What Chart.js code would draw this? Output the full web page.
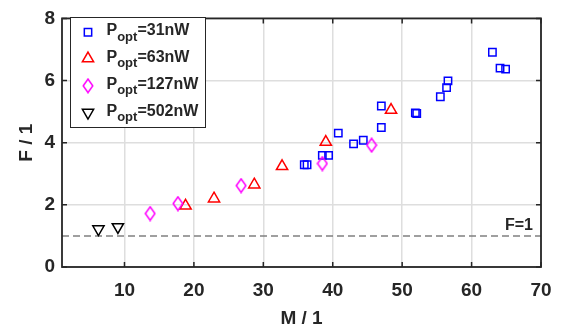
<!DOCTYPE html>
<html><head><meta charset="utf-8">
<script src="https://cdn.jsdelivr.net/npm/chart.js@4/dist/chart.umd.min.js"></script>
<style>html,body{margin:0;padding:0;background:#fff;}#wrap{width:569px;height:336px;position:relative;}</style>
</head><body><div id="wrap"><canvas id="c" width="569" height="336"></canvas></div>
<script>
const xTicks = [10, 20, 30, 40, 50, 60, 70];
const yTicks = [0, 2, 4, 6, 8];
const legendPowers = ['31nW', '63nW', '127nW', '502nW'];
// P_opt = 31 nW
const m31 = [35.9, 36.3, 38.5, 39.4, 40.8, 43.0, 44.4, 47.0, 47.0, 51.9, 52.1, 55.5, 56.4, 56.6, 63.0, 64.1, 64.9];
const f31 = [3.29, 3.29, 3.59, 3.59, 4.31, 3.96, 4.08, 4.49, 5.18, 4.96, 4.94, 5.48, 5.77, 5.99, 6.91, 6.40, 6.37];
// P_opt = 63 nW
const m63 = [18.8, 22.9, 28.7, 32.7, 39.0, 48.4];
const f63 = [1.97, 2.20, 2.65, 3.24, 4.02, 5.05];
// P_opt = 127 nW
const m127 = [13.7, 17.7, 26.8, 38.5, 45.6];
const f127 = [1.72, 2.04, 2.62, 3.33, 3.92];
// P_opt = 502 nW
const m502 = [6.25, 9.05];
const f502 = [1.22, 1.29];
// reference line F = 1
const refX = [1, 70];
const refY = [1, 1];

const FONT = '"Liberation Sans", Arial, Helvetica, sans-serif';
const TXT = '#262626';

function pts(xs, ys) { return xs.map((x, i) => ({x: x, y: ys[i]})); }

function makeDiamond() {
  const c = document.createElement('canvas');
  c.width = 12; c.height = 16;
  const g = c.getContext('2d');
  g.strokeStyle = '#ff00ff'; g.lineWidth = 1.5;
  g.beginPath();
  g.moveTo(6, 1.2); g.lineTo(10.8, 8); g.lineTo(6, 14.8); g.lineTo(1.2, 8); g.closePath();
  g.stroke();
  return c;
}
const diamond = makeDiamond();

const markerDefs = [
  {style: 'rect', color: '#0000ff', r: 5.2, rot: 0},
  {style: 'triangle', color: '#ff0000', r: 6.5, rot: 0},
  {style: diamond, color: '#ff00ff', r: 7, rot: 0},
  {style: 'triangle', color: '#000000', r: 6.5, rot: 180}
];

const sets = [[m31, f31], [m63, f63], [m127, f127], [m502, f502]];

const datasets = sets.map((s, i) => ({
  type: 'scatter',
  data: pts(s[0], s[1]),
  pointStyle: markerDefs[i].style,
  pointRadius: markerDefs[i].r,
  pointRotation: markerDefs[i].rot,
  borderColor: markerDefs[i].color,
  backgroundColor: 'rgba(0,0,0,0)',
  pointBorderWidth: 1.5,
  pointHoverRadius: markerDefs[i].r,
  order: 4 - i
}));
datasets.push({
  type: 'line',
  data: pts(refX, refY),
  borderColor: '#808080',
  borderWidth: 1.4,
  borderDash: [7, 4],
  pointRadius: 0,
  fill: false,
  order: 10
});

const decor = {
  id: 'decor',
  afterDraw(chart) {
    const ctx = chart.ctx;
    const a = chart.chartArea;
    const xs = chart.scales.x, ys = chart.scales.y;
    ctx.save();
    // frame
    ctx.strokeStyle = TXT; ctx.lineWidth = 1.8;
    ctx.strokeRect(a.left, a.top, a.right - a.left, a.bottom - a.top);
    // inward ticks
    ctx.lineWidth = 1.5;
    ctx.beginPath();
    xTicks.forEach(v => {
      const px = xs.getPixelForValue(v);
      ctx.moveTo(px, a.bottom); ctx.lineTo(px, a.bottom - 5);
      ctx.moveTo(px, a.top); ctx.lineTo(px, a.top + 5);
    });
    yTicks.forEach(v => {
      const py = ys.getPixelForValue(v);
      ctx.moveTo(a.left, py); ctx.lineTo(a.left + 5, py);
      ctx.moveTo(a.right, py); ctx.lineTo(a.right - 5, py);
    });
    ctx.stroke();
    // F=1 label
    ctx.fillStyle = TXT;
    ctx.font = 'bold 16px ' + FONT;
    ctx.textAlign = 'right'; ctx.textBaseline = 'alphabetic';
    ctx.fillText('F=1', xs.getPixelForValue(70) - 8, ys.getPixelForValue(1) - 6);
    // legend
    const bx = 70, by = 17, bw = 135, bh = 110;
    ctx.fillStyle = '#ffffff';
    ctx.fillRect(bx, by, bw, bh);
    ctx.strokeStyle = TXT; ctx.lineWidth = 1;
    ctx.strokeRect(bx + 0.5, by + 0.5, bw, bh);
    const rowY = [32.3, 58.6, 85.8, 112.6];
    legendPowers.forEach((p, i) => {
      const m = markerDefs[i];
      const cy = rowY[i];
      ctx.strokeStyle = m.color; ctx.lineWidth = 1.5;
      if (typeof m.style === 'string') {
        ctx.beginPath();
        const r = m.r;
        if (m.style === 'rect') {
          const s = Math.SQRT1_2 * r;
          ctx.rect(88 - s, cy - s, 2 * s, 2 * s);
        } else {
          const rad = m.rot * Math.PI / 180;
          for (let k = 0; k < 3; k++) {
            const ang = rad + k * 2 * Math.PI / 3;
            const px = 88 + Math.sin(ang) * r, py = cy - Math.cos(ang) * r;
            if (k === 0) ctx.moveTo(px, py); else ctx.lineTo(px, py);
          }
          ctx.closePath();
        }
        ctx.stroke();
      } else {
        ctx.drawImage(m.style, 88 - m.style.width / 2, cy - m.style.height / 2);
      }
      const base = cy + 3;
      ctx.fillStyle = TXT;
      ctx.textAlign = 'left'; ctx.textBaseline = 'alphabetic';
      ctx.font = 'bold 16px ' + FONT;
      let tx = 106.5;
      ctx.fillText('P', tx, base);
      tx += ctx.measureText('P').width;
      ctx.font = 'bold 13px ' + FONT;
      ctx.fillText('opt', tx, base + 5.5);
      tx += ctx.measureText('opt').width;
      ctx.font = 'bold 16px ' + FONT;
      ctx.fillText('=' + p, tx, base);
    });
    ctx.restore();
  }
};

new Chart(document.getElementById('c'), {
  data: {datasets: datasets},
  options: {
    responsive: false,
    devicePixelRatio: 1,
    animation: false,
    events: [],
    layout: {padding: {top: 10, right: 28, left: 0, bottom: 0}},
    plugins: {legend: {display: false}, tooltip: {enabled: false}},
    scales: {
      x: {
        type: 'linear', min: 1, max: 70,
        afterBuildTicks(s) { s.ticks = xTicks.map(v => ({value: v})); },
        afterFit(s) { s.height = 69; },
        grid: {color: '#dedede', lineWidth: 1.5, drawTicks: false},
        border: {display: false},
        ticks: {color: TXT, font: {family: FONT, size: 19, weight: 'bold'}, padding: 12, maxRotation: 0},
        title: {display: true, text: 'M / 1', color: TXT, font: {family: FONT, size: 19, weight: 'bold'}, padding: {top: 0, bottom: 6}}
      },
      y: {
        type: 'linear', min: 0, max: 8,
        afterBuildTicks(s) { s.ticks = yTicks.map(v => ({value: v})); },
        afterFit(s) { s.width = 62; },
        grid: {color: '#dedede', lineWidth: 1.5, drawTicks: false},
        border: {display: false},
        ticks: {color: TXT, font: {family: FONT, size: 19, weight: 'bold'}, padding: 7},
        title: {display: true, text: 'F / 1', color: TXT, font: {family: FONT, size: 19, weight: 'bold'}, padding: {top: 15, bottom: 0}}
      }
    }
  },
  plugins: [decor]
});
</script>
</body></html>
